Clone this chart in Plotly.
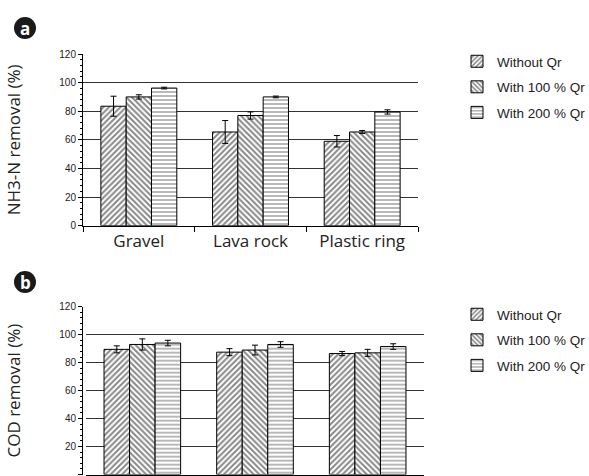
import plotly.graph_objects as go

categories = ["Gravel", "Lava rock", "Plastic ring"]
series_names = ["Without Qr", "With 100 % Qr", "With 200 % Qr"]

# Panel a: NH3-N removal (%)
nh3_values = [[83.5, 65.5, 59.0], [90.0, 77.0, 65.5], [96.2, 90.0, 79.5]]
nh3_errors = [[7.0, 8.0, 4.0], [1.5, 2.5, 1.0], [0.6, 0.6, 1.5]]

# Panel b: COD removal (%)
cod_values = [[89.5, 87.5, 86.5], [93.0, 89.0, 87.0], [94.0, 93.0, 91.5]]
cod_errors = [[2.5, 2.5, 1.5], [4.0, 3.5, 2.5], [2.0, 2.0, 2.0]]

y_ticks = [0, 20, 40, 60, 80, 100, 120]

patterns = [
    dict(shape="/", size=4, solidity=0.5, fgcolor="#111", bgcolor="white"),
    dict(shape="\\", size=4, solidity=0.5, fgcolor="#111", bgcolor="white"),
    dict(shape="-", size=4, solidity=0.3, fgcolor="#111", bgcolor="white"),
]

W, H = 589, 476
fig = go.Figure()

panels = [
    ("x", "y", nh3_values, nh3_errors, "legend"),
    ("x2", "y2", cod_values, cod_errors, "legend2"),
]
for xa, ya, vals, errs, leg in panels:
    for i, name in enumerate(series_names):
        fig.add_trace(go.Bar(
            x=categories, y=vals[i], name=name, xaxis=xa, yaxis=ya,
            legend=leg, legendgroup=f"{leg}{i}",
            marker=dict(color="white", pattern=patterns[i],
                        line=dict(color="black", width=1)),
            error_y=dict(type="data", array=errs[i], color="black",
                         thickness=1, width=3),
        ))

def px_x(p):
    return p / W

def px_y(p):
    return 1 - p / H

axis_font = dict(family="Liberation Sans", size=10, color="#222")
cat_font = dict(family="Open Sans", size=17, color="#222")
leg_font = dict(family="Liberation Sans", size=13.5, color="#222")

def yaxis(dom, title):
    return dict(
        domain=dom, range=[0, 120], tickvals=y_ticks, showgrid=True,
        gridcolor="#333", gridwidth=1, showline=True, linecolor="black",
        linewidth=1, ticks="outside", ticklen=4, tickcolor="black",
        tickfont=axis_font, zeroline=False, automargin=False,
        minor=dict(dtick=4, ticks="outside", ticklen=2, tickcolor="black"),
        title=dict(text=title, font=cat_font, standoff=34),
        fixedrange=True,
    )

def xaxis(dom, anchor, show_labels=True):
    return dict(
        domain=dom, anchor=anchor, showline=True, linecolor="black",
        linewidth=1, ticks="outside", ticklen=5, tickcolor="black",
        tickson="boundaries", tickfont=cat_font, showgrid=False,
        automargin=False, showticklabels=show_labels,
    )

fig.update_layout(
    width=W, height=H, margin=dict(l=0, r=0, t=0, b=0, autoexpand=False),
    paper_bgcolor="white", plot_bgcolor="white",
    barmode="group", bargap=0.32, bargroupgap=0,
    xaxis=xaxis([px_x(83), px_x(418)], "y"),
    yaxis=yaxis([px_y(225.7), px_y(54)], "NH3-N removal (%)"),
    # bottom panel's category labels lie below the visible page in the reference
    xaxis2=xaxis([px_x(86), px_x(424)], "y2", show_labels=False),
    yaxis2=yaxis([px_y(474.5), px_y(306.7)], "COD removal (%)"),
    legend=dict(x=px_x(457), y=px_y(46), xanchor="left", yanchor="top",
                font=leg_font, tracegroupgap=5, bgcolor="rgba(0,0,0,0)"),
    legend2=dict(x=px_x(457), y=px_y(299), xanchor="left", yanchor="top",
                 font=leg_font, tracegroupgap=5, bgcolor="rgba(0,0,0,0)"),
    showlegend=True,
)

for label, cx, cy in [("a", 25, 28), ("b", 25, 282)]:
    r = 11
    fig.add_shape(type="circle", xref="paper", yref="paper",
                  x0=px_x(cx - r), x1=px_x(cx + r), y0=px_y(cy + r), y1=px_y(cy - r),
                  fillcolor="#1a1a1a", line=dict(color="#1a1a1a", width=0))
    fig.add_annotation(text=f"<b>{label}</b>", xref="paper", yref="paper",
                       x=px_x(cx), y=px_y(cy), showarrow=False,
                       font=dict(family="Open Sans", size=17, color="white"),
                       xanchor="center", yanchor="middle")

fig.write_html("out.html")
